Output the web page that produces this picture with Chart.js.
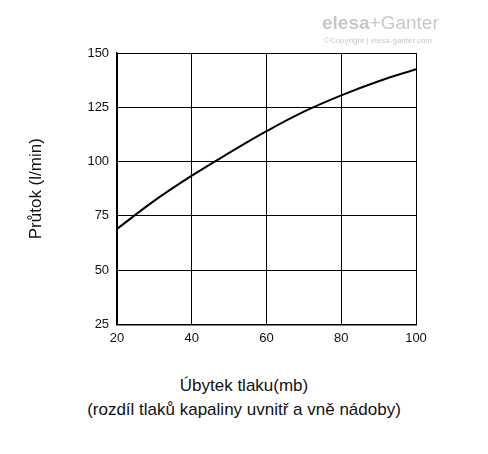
<!DOCTYPE html>
<html><head><meta charset="utf-8">
<script src="https://cdn.jsdelivr.net/npm/chart.js@4"></script>
<style>
body{margin:0;background:#fff;font-family:"Liberation Sans",Arial,sans-serif;}
#wrap{position:relative;width:488px;height:454px;}
#logo{position:absolute;left:322px;top:12px;color:#c8c8c8;font-size:19px;font-weight:bold;}
#copy{position:absolute;left:324px;top:36px;color:#c8c8c8;font-size:8px;}
#xt{position:absolute;left:0;width:488px;top:374px;text-align:center;font-size:17px;line-height:24px;color:#111;}
</style></head><body>
<div id="wrap">
<canvas id="c" width="488" height="352"></canvas>
<div id="logo">elesa<span style="font-weight:normal">+Ganter</span></div>
<div id="copy">©Copyright | elesa-ganter.com</div>
<div id="xt">Úbytek tlaku(mb)<br>(rozdíl tlaků kapaliny uvnitř a vně nádoby)</div>
</div>
<script>
// pressure drop (mb) vs flow (l/min)
const pressureDrop = [20, 30, 40, 50, 60, 70, 80, 90, 100];
const flow = [69, 82, 93.5, 104, 114, 123, 130.5, 137, 142.5];

Chart.defaults.font.family = "Liberation Sans";
new Chart(document.getElementById('c'), {
    type: 'line',
    data: {
        datasets: [{
            data: pressureDrop.map((x, i) => ({x: x, y: flow[i]})),
            borderColor: '#000',
            borderWidth: 2,
            pointRadius: 0,
            tension: 0.4
        }]
    },
    options: {
        responsive: false,
        animation: false,
        layout: {padding: {left: 22, right: 72, top: 53}},
        plugins: {legend: {display: false}, tooltip: {enabled: false}},
        scales: {
            x: {
                type: 'linear', min: 20, max: 100,
                ticks: {stepSize: 20, color: '#111', font: {size: 13}, padding: 6},
                grid: {color: '#000', lineWidth: 1, drawTicks: false},
                border: {color: '#000', width: 1.5}
            },
            y: {
                min: 25, max: 150,
                ticks: {stepSize: 25, color: '#111', font: {size: 13}, padding: 8},
                grid: {color: '#000', lineWidth: 1, drawTicks: false},
                border: {color: '#000', width: 1.5},
                title: {display: true, text: 'Průtok (l/min)', color: '#111', font: {size: 17}, padding: {bottom: 33}}
            }
        }
    }
});
</script>
</body></html>
